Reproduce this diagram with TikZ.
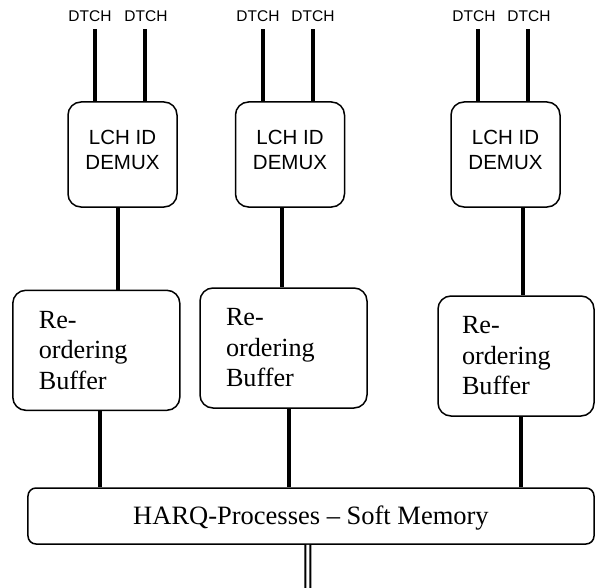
\documentclass[tikz,border=0pt]{standalone}
\usepackage{fontspec}
\setmainfont{Liberation Serif}
\setsansfont{Liberation Sans}

\begin{document}
\begin{tikzpicture}[x=1bp, y=-1bp]
	\useasboundingbox (0,0) rectangle (595,588);
	\tikzstyle{box}=[draw, line width=1.5bp, rounded corners=13bp, inner sep=0pt]
	\tikzstyle{chan}=[font=\sffamily\fontsize{15.5bp}{18bp}\selectfont, inner xsep=0pt, inner ysep=7.5bp]
	\tikzstyle{demux}=[box, font=\sffamily\fontsize{20.5bp}{25bp}\selectfont, align=center, minimum width=109bp, minimum height=105bp, text depth=9bp]
	\tikzstyle{reorder}=[box, font=\fontsize{26.2bp}{30.5bp}\selectfont, align=left, inner xsep=26bp, text width=115bp, minimum height=120bp]
	\tikzstyle{harq}=[box, rounded corners=8bp, font=\fontsize{26.5bp}{30bp}\selectfont, minimum width=566bp, minimum height=56bp, text height=17.5bp, text depth=0bp]
	\tikzstyle{conn}=[line width=3.2bp]

	\node[chan] (ch1a) at (90, 16) {DTCH};
	\node[chan] (ch1b) at (146, 16) {DTCH};
	\node[chan] (ch2a) at (258, 16) {DTCH};
	\node[chan] (ch2b) at (313, 16) {DTCH};
	\node[chan] (ch3a) at (474, 16) {DTCH};
	\node[chan] (ch3b) at (529, 16) {DTCH};

	\node[demux] (dmx1) at (122.5, 154.5) {LCH ID\\DEMUX};
	\node[demux] (dmx2) at (290, 154.5) {LCH ID\\DEMUX};
	\node[demux] (dmx3) at (505.5, 154.5) {LCH ID\\DEMUX};

	\node[reorder] (rob1) at (96.3, 350.3) {Re-\\ordering\\Buffer};
	\node[reorder] (rob2) at (283.5, 348) {Re-\\ordering\\Buffer};
	\node[reorder, inner xsep=24bp, text width=108bp] (rob3) at (516, 356) {Re-\\ordering\\Buffer};

	\node[harq] (harq) at (311, 516) {HARQ-Processes – Soft Memory};
	\coordinate (out) at (307.8, 588);

	\draw[conn] ([xshift=5bp]ch1a.south) to ([xshift=5bp]ch1a.south |- dmx1.north);
	\draw[conn] ([xshift=-1bp]ch1b.south) to ([xshift=-1bp]ch1b.south |- dmx1.north);
	\draw[conn] ([xshift=5bp]ch2a.south) to ([xshift=5bp]ch2a.south |- dmx2.north);
	\draw[conn] (ch2b.south) to (ch2b.south |- dmx2.north);
	\draw[conn] ([xshift=4bp]ch3a.south) to ([xshift=4bp]ch3a.south |- dmx3.north);
	\draw[conn] ([xshift=-1bp]ch3b.south) to ([xshift=-1bp]ch3b.south |- dmx3.north);

	\draw[conn] ([xshift=-4.5bp]dmx1.south) to ([xshift=-4.5bp]dmx1.south |- rob1.north);
	\draw[conn] ([xshift=-8bp]dmx2.south) to ([xshift=-8bp]dmx2.south |- rob2.north);
	\draw[conn] ([xshift=17.5bp]dmx3.south) to ([xshift=17.5bp]dmx3.south |- rob3.north);

	\draw[conn] ([xshift=3.7bp]rob1.south) to ([xshift=3.7bp]rob1.south |- harq.north);
	\draw[conn] ([xshift=5.5bp]rob2.south) to ([xshift=5.5bp]rob2.south |- harq.north);
	\draw[conn] ([xshift=5bp]rob3.south) to ([xshift=5bp]rob3.south |- harq.north);

	\draw[double, line width=2bp, double distance=3bp] ([xshift=-3.2bp]harq.south) to (out);
\end{tikzpicture}
\end{document}
